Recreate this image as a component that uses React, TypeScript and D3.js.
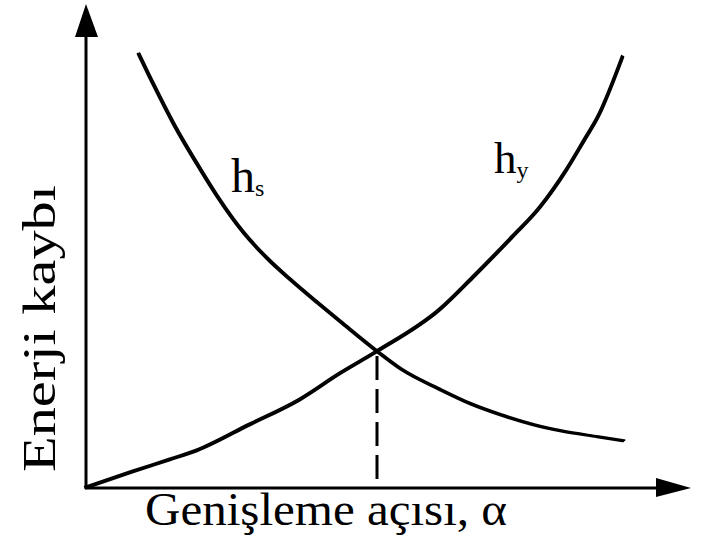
import React from "react";
import * as d3 from "d3";

// Loss curves, in percent of the plot extent
const hsAlpha = [8.67, 11.17, 14.5, 19.0, 21.83, 26.17, 30.17, 34.0, 38.5, 42.33, 48.5, 52.33, 59.0, 64.0, 69.0, 74.5, 79.0, 85.17, 89.5];
const hsLoss = [90.42, 83.96, 75.83, 66.25, 60.63, 53.13, 47.71, 43.33, 38.54, 34.58, 28.33, 24.79, 20.42, 17.5, 15.21, 13.13, 11.88, 10.63, 9.79];

const hyAlpha = [0, 7.83, 14.0, 18.5, 27.33, 35.67, 42.33, 48.5, 59.0, 64.83, 71.0, 75.67, 80.17, 83.17, 85.33, 89.5];
const hyLoss = [0, 3.33, 5.83, 7.71, 13.13, 18.33, 23.75, 28.33, 37.08, 44.17, 52.08, 58.33, 66.25, 72.5, 77.08, 89.79];

// Optimum angle where the two losses meet
const optimumAlpha = 48.5;
const optimumLoss = 28.33;

const xTitle = "Genişleme açısı, α";
const yTitle = "Enerji kaybı";

const W = 702;
const H = 542;

export default function App() {
  const x = d3.scaleLinear().domain([0, 100]).range([86, 686]);
  const y = d3.scaleLinear().domain([0, 100]).range([488, 8]);

  const hs = hsAlpha.map((a, i) => [a, hsLoss[i]] as [number, number]);
  const hy = hyAlpha.map((a, i) => [a, hyLoss[i]] as [number, number]);

  const line = d3
    .line<[number, number]>()
    .x((d) => x(d[0]))
    .y((d) => y(d[1]))
    .curve(d3.curveMonotoneX);

  const x0 = x(0);
  const y0 = y(0);
  const font = "'Liberation Serif', 'Times New Roman', serif";

  return (
    <svg
      width={W}
      height={H}
      style={{ position: "absolute", left: 0, top: 0, background: "#fff" }}
    >
      {/* axes */}
      <line x1={x0} y1={y0 + 1} x2={x0} y2={36} stroke="#000" strokeWidth={3} />
      <polygon points={`${x0},4 ${x0 - 11},37 ${x0 + 12},37`} fill="#000" />
      <line x1={x0 - 1} y1={y0} x2={658} y2={y0} stroke="#000" strokeWidth={3} />
      <polygon points={`691,${y0} 656,${y0 - 10} 656,${y0 + 9}`} fill="#000" />

      {/* optimum marker */}
      <line
        x1={x(optimumAlpha)}
        x2={x(optimumAlpha)}
        y1={y(optimumLoss) + 4}
        y2={y0 - 1}
        stroke="#000"
        strokeWidth={3}
        strokeDasharray="24 9"
      />

      {/* curves, traced twice */}
      <g fill="none" stroke="#000" strokeLinecap="round" strokeLinejoin="round">
        <path d={line(hs) ?? ""} strokeWidth={2.6} />
        <path d={line(hs) ?? ""} strokeWidth={1.8} transform="translate(1.6,-0.8)" />
        <path d={line(hy) ?? ""} strokeWidth={2.6} />
        <path d={line(hy) ?? ""} strokeWidth={1.8} transform="translate(-1.3,-1.3)" />
      </g>

      {/* curve labels */}
      <text x={231} y={192} fontFamily={font} fontSize={48} fill="#000">
        h<tspan fontSize={24} dy={4}>s</tspan>
      </text>
      <text x={494} y={173} fontFamily={font} fontSize={45} fill="#000">
        h<tspan fontSize={24} dy={5}>y</tspan>
      </text>

      {/* axis titles */}
      <text
        x={145}
        y={525}
        fontFamily={font}
        fontSize={46}
        fill="#000"
        textLength={362}
        lengthAdjust="spacingAndGlyphs"
      >
        {xTitle}
      </text>
      <text
        transform="translate(55,472) rotate(-90)"
        fontFamily={font}
        fontSize={46}
        fill="#000"
        textLength={287}
        lengthAdjust="spacingAndGlyphs"
      >
        {yTitle}
      </text>
    </svg>
  );
}
